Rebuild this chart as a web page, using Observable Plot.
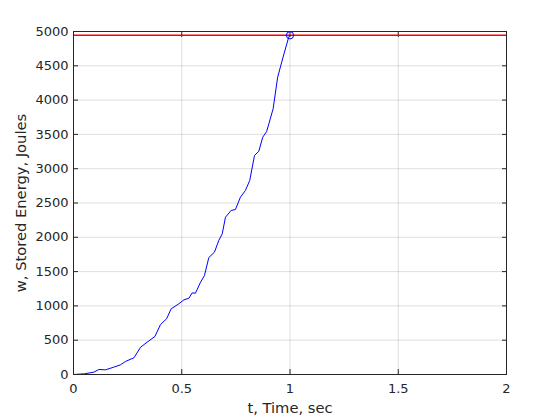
<!DOCTYPE html>
<html>
<head>
<meta charset="utf-8">
<script src="https://cdn.jsdelivr.net/npm/d3@7"></script>
<script src="https://cdn.jsdelivr.net/npm/@observablehq/plot@0.6"></script>
<style>
  html, body { margin: 0; padding: 0; background: #fff; }
  svg { display: block; }
  g[aria-label="x-axis label"] text, g[aria-label="y-axis label"] text { font-size: 14.7px; }
</style>
</head>
<body>
<div id="chart"></div>
<script>
// Time (sec)
const tValues = [0, 0.05, 0.094, 0.117, 0.148, 0.186, 0.217, 0.24, 0.279, 0.31, 0.34, 0.376, 0.402, 0.43, 0.451, 0.486, 0.51, 0.533, 0.548, 0.563, 0.587, 0.605, 0.625, 0.651, 0.671, 0.687, 0.702, 0.728, 0.748, 0.771, 0.794, 0.814, 0.836, 0.856, 0.874, 0.892, 0.922, 0.943, 0.968, 0.994, 1.0];
// Stored energy (Joules)
const wValues = [0, 10, 34, 73, 68, 107, 141, 190, 243, 398, 471, 554, 729, 812, 957, 1030, 1088, 1112, 1190, 1185, 1346, 1443, 1705, 1783, 1953, 2051, 2293, 2391, 2405, 2585, 2682, 2828, 3192, 3255, 3459, 3540, 3873, 4334, 4626, 4917, 4945];
// Reference level (red line) and end marker
const maxEnergy = [4945];
const endPoint = [{t: 1.0, w: 4945}];
const xTicks = [0, 0.5, 1, 1.5, 2];
const yTicks = [0, 500, 1000, 1500, 2000, 2500, 3000, 3500, 4000, 4500, 5000];

const data = tValues.map((t, i) => ({t, w: wValues[i]}));
const axisColor = "#262626";
const fmt = d => String(d);

const chart = Plot.plot({
  width: 560,
  height: 420,
  marginLeft: 73,
  marginRight: 54,
  marginTop: 31,
  marginBottom: 46,
  style: {fontFamily: "DejaVu Sans", fontSize: "13px", color: axisColor, background: "#fff"},
  x: {domain: [0, 2]},
  y: {domain: [0, 5000]},
  marks: [
    Plot.gridX(xTicks, {stroke: "#000", strokeOpacity: 0.13}),
    Plot.gridY(yTicks, {stroke: "#000", strokeOpacity: 0.13}),
    Plot.axisX(xTicks, {anchor: "bottom", tickSize: -5, tickPadding: 14, tickFormat: fmt, stroke: axisColor, fill: axisColor,
      label: "t, Time, sec", labelAnchor: "center", labelOffset: 38, labelArrow: "none"}),
    Plot.axisX(xTicks, {anchor: "top", tickSize: -5, tickFormat: () => "", stroke: axisColor, label: null}),
    Plot.axisY(yTicks, {anchor: "left", tickSize: -5, tickPadding: 10, tickFormat: fmt, stroke: axisColor, fill: axisColor,
      label: "w, Stored Energy, Joules", labelAnchor: "center", labelOffset: 58, labelArrow: "none"}),
    Plot.axisY(yTicks, {anchor: "right", tickSize: -5, tickFormat: () => "", stroke: axisColor, label: null}),
    Plot.ruleY(maxEnergy, {stroke: "#ff0000", strokeWidth: 1.3}),
    Plot.line(data, {x: "t", y: "w", stroke: "#0000ff", strokeWidth: 1}),
    Plot.dot(endPoint, {x: "t", y: "w", r: 3.6, stroke: "#0000ff", strokeWidth: 1, fill: "none"}),
    Plot.frame({stroke: axisColor, strokeWidth: 1})
  ]
});
document.getElementById("chart").appendChild(chart);
</script>
</body>
</html>
